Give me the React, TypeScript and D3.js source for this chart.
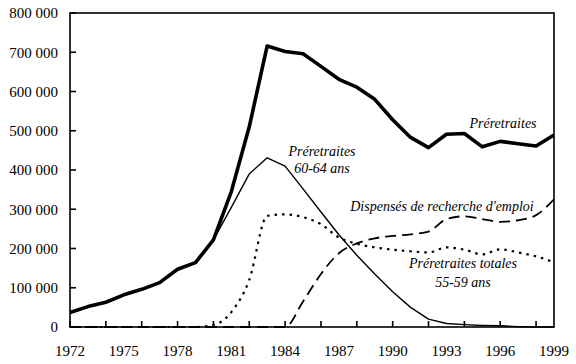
import { useRef, useEffect } from 'react';
import * as d3 from 'd3';

const years = d3.range(1972, 2000);

// Préretraites (total)
const preretraites = [
  37000, 52000, 63000, 82000, 96000, 113000, 147000, 164000, 222000, 345000,
  510000, 716000, 702000, 696000, 664000, 631000, 611000, 580000, 528000, 483000,
  457000, 491000, 493000, 459000, 473000, 467000, 461000, 489000,
];

// Préretraites 60-64 ans
const pre6064 = [
  37000, 52000, 63000, 82000, 96000, 113000, 147000, 164000, 222000, 305000,
  390000, 431000, 410000, 352000, 293000, 235000, 183000, 135000, 90000, 50000,
  20000, 9000, 6000, 4000, 3000, 1000, 0, 0,
];

// Préretraites totales 55-59 ans
const pre5559 = [
  0, 0, 0, 0, 0, 0, 0, 0, 5000, 38000,
  120000, 283000, 287000, 280000, 262000, 228000, 212000, 203000, 197000, 193000,
  190000, 203000, 197000, 185000, 198000, 190000, 180000, 165000,
];

// Dispensés de recherche d'emploi
const dispenses = [
  0, 0, 0, 0, 0, 0, 0, 0, 0, 0,
  0, 0, 0, 65000, 135000, 188000, 213000, 226000, 232000, 236000,
  243000, 275000, 282000, 275000, 268000, 272000, 285000, 325000,
];

const yTicks = [0, 100000, 200000, 300000, 400000, 500000, 600000, 700000, 800000];
const xLabels = [1972, 1975, 1978, 1981, 1984, 1987, 1990, 1993, 1996, 1999];
const xTicks = d3.range(1972, 1999, 2);

const fmt = d3.formatLocale({ decimal: ',', thousands: ' ', grouping: [3], currency: ['', ''] }).format(',');

const W = 576, H = 364;
const x = d3.scaleLinear().domain([1972, 1999]).range([70, 554]);
const y = d3.scaleLinear().domain([0, 800000]).range([327, 13]);

const App = () => {
  const svgRef = useRef<SVGSVGElement>(null);

  useEffect(() => {
    const svg = d3.select(svgRef.current);
    svg.selectAll('*').remove();

    const lineOf = (vals: number[], curve: d3.CurveFactory) =>
      d3.line<number>()
        .x((d, i) => x(years[i]))
        .y(d => y(d))
        .curve(curve)(vals);

    const g = svg.append('g');

    g.append('path').attr('d', lineOf(pre5559, d3.curveMonotoneX))
      .attr('fill', 'none').attr('stroke', '#000').attr('stroke-width', 2.2)
      .attr('stroke-dasharray', '2.5,5');
    g.append('path').attr('d', lineOf(dispenses, d3.curveMonotoneX))
      .attr('fill', 'none').attr('stroke', '#000').attr('stroke-width', 1.8)
      .attr('stroke-dasharray', '11,6');
    g.append('path').attr('d', lineOf(pre6064, d3.curveLinear))
      .attr('fill', 'none').attr('stroke', '#000').attr('stroke-width', 1.4)
      .attr('stroke-linejoin', 'round');
    g.append('path').attr('d', lineOf(preretraites, d3.curveLinear))
      .attr('fill', 'none').attr('stroke', '#000').attr('stroke-width', 3.6)
      .attr('stroke-linejoin', 'round');

    // frame
    svg.append('rect')
      .attr('x', x(1972)).attr('y', y(800000))
      .attr('width', x(1999) - x(1972)).attr('height', y(0) - y(800000))
      .attr('fill', 'none').attr('stroke', '#000').attr('stroke-width', 1.6);

    // y ticks
    svg.append('g').selectAll('line').data(yTicks).enter().append('line')
      .attr('x1', x(1972)).attr('x2', x(1972) + 6)
      .attr('y1', d => y(d)).attr('y2', d => y(d))
      .attr('stroke', '#000').attr('stroke-width', 1.6);
    svg.append('g').selectAll('text').data(yTicks).enter().append('text')
      .attr('x', 58).attr('y', d => y(d)).attr('dy', '0.35em')
      .attr('text-anchor', 'end')
      .attr('font-family', '"Liberation Serif", "Times New Roman", serif')
      .attr('font-size', 15)
      .text(d => fmt(d));

    // x ticks
    svg.append('g').selectAll('line').data(xTicks).enter().append('line')
      .attr('x1', d => x(d)).attr('x2', d => x(d))
      .attr('y1', y(0)).attr('y2', y(0) - 6)
      .attr('stroke', '#000').attr('stroke-width', 1.6);
    svg.append('g').selectAll('text').data(xLabels).enter().append('text')
      .attr('x', d => x(d)).attr('y', 356)
      .attr('text-anchor', 'middle')
      .attr('font-family', '"Liberation Serif", "Times New Roman", serif')
      .attr('font-size', 15)
      .text(d => d);

    // series labels
    const labels = [
      { t: 'Préretraites', x: 503, y: 128 },
      { t: 'Préretraites', x: 322, y: 156 },
      { t: '60-64 ans', x: 322, y: 173 },
      { t: "Dispensés de recherche d'emploi", x: 442, y: 211 },
      { t: 'Préretraites totales', x: 463, y: 268 },
      { t: '55-59 ans', x: 463, y: 287 },
    ];
    svg.append('g').selectAll('text').data(labels).enter().append('text')
      .attr('x', d => d.x).attr('y', d => d.y)
      .attr('text-anchor', 'middle')
      .attr('font-family', '"Liberation Serif", "Times New Roman", serif')
      .attr('font-style', 'italic')
      .attr('font-size', 14)
      .text(d => d.t);
  }, []);

  return (
    <div style={{ position: 'absolute', left: 0, top: 0 }}>
      <svg ref={svgRef} width={W} height={H} style={{ display: 'block', background: '#fff' }}></svg>
    </div>
  );
};

export default App;
